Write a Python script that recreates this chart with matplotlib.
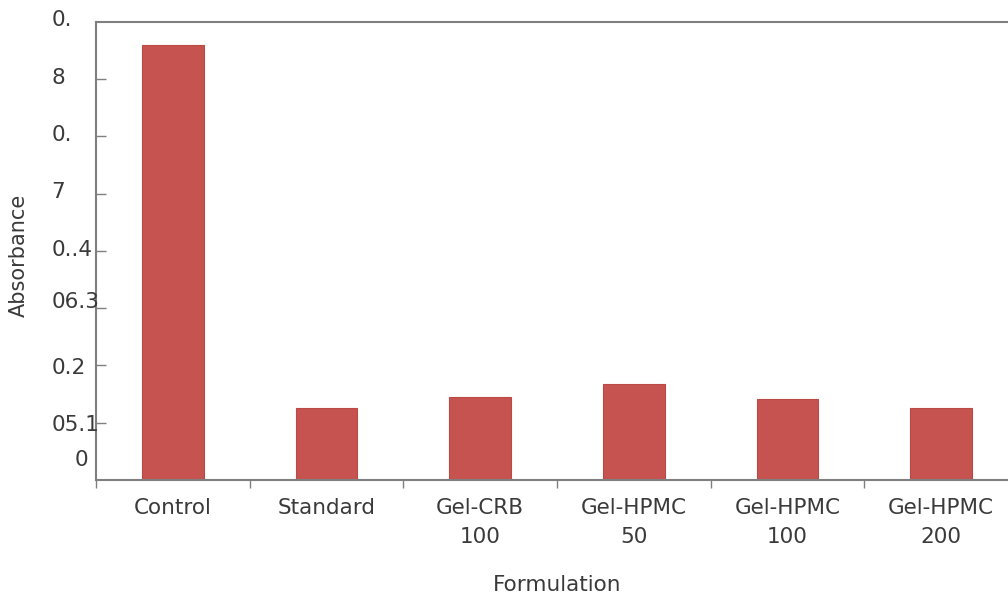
import numpy as np
import matplotlib.pyplot as plt

categories = ["Control", "Standard", "Gel-CRB\n100", "Gel-HPMC\n50", "Gel-HPMC\n100", "Gel-HPMC\n200"]
absorbance = [0.76, 0.126, 0.145, 0.168, 0.141, 0.126]
ytick_values = [0.1, 0.2, 0.3, 0.4, 0.5, 0.6, 0.7]
ylabel_texts = ["0.", "8", "0.", "7", "0..4", "06.3", "0.2", "05.1", "0"]

# where the (garbled) y labels sit in the original
ylabel_pos = [0.803, 0.702, 0.603, 0.503, 0.402, 0.311, 0.196, 0.096, 0.035]
ylabel_x = [-0.048, -0.048, -0.048, -0.048, -0.048, -0.048, -0.048, -0.048, -0.023]

gray = "#7f7f7f"
txtcol = "#3a3a3a"
fig = plt.figure(figsize=(10.08, 5.93), dpi=100)
ax = fig.add_axes([0.0952, 0.1906, 0.9147, 0.7723])

x = np.arange(len(categories))
ax.bar(x, absorbance, width=0.4, color="#c6534f", edgecolor="#b94a46", linewidth=0.8)

ax.set_xlim(-0.5, len(categories) - 0.5)
ax.set_ylim(0, 0.8)

ax.set_xticks(np.arange(len(categories) + 1) - 0.5)
ax.set_xticklabels([])
ax.set_xticks(x, minor=True)
ax.set_xticklabels(categories, minor=True, fontsize=15.5, color=txtcol, linespacing=1.55)
ax.tick_params(axis="x", which="major", direction="out", length=6, color=gray, width=1)
ax.tick_params(axis="x", which="minor", length=0, pad=13)

ax.set_yticks(ytick_values)
ax.set_yticklabels([])
ax.tick_params(axis="y", direction="in", length=7, color=gray, width=1)

for txt, yp, xp in zip(ylabel_texts, ylabel_pos, ylabel_x):
    ax.text(xp, yp, txt, transform=ax.get_yaxis_transform(), ha="left", va="center",
            fontsize=15.5, color=txtcol, clip_on=False)

for s in ["left", "top", "bottom"]:
    ax.spines[s].set_color(gray)
    ax.spines[s].set_linewidth(1.5)
ax.spines["right"].set_visible(False)

ax.set_xlabel("Formulation", fontsize=15.5, color=txtcol, labelpad=20)
fig.text(0.019, 0.57, "Absorbance", rotation=90, ha="center", va="center", fontsize=15, color=txtcol)

fig.savefig("out.png", dpi=100)
